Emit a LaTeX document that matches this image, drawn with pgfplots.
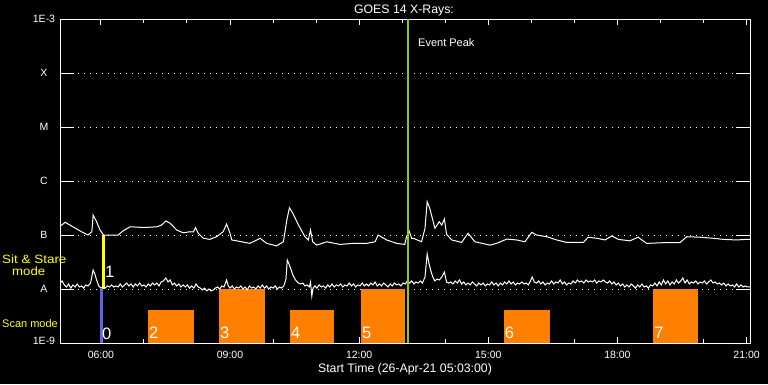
\documentclass[border=0pt]{standalone}
\usepackage{fontspec}
\setmainfont{Liberation Sans}
\usepackage{pgfplots}
\pgfplotsset{compat=1.18}
\definecolor{scanorange}{RGB}{255,128,0}
\definecolor{ssblue}{RGB}{100,100,230}
\definecolor{peakgreen}{RGB}{150,200,0}
\definecolor{ssyellow}{RGB}{255,255,0}
\begin{document}
\begin{tikzpicture}[x=1pt,y=1pt]
\useasboundingbox (0,0) rectangle (768,384);
\fill[black] (0,0) rectangle (768,384);
\begin{axis}[
  at={(60pt,41pt)}, anchor=south west,
  width=690pt, height=324pt, scale only axis,
  xmin=5.05, xmax=21.08, ymode=log, ymin=1e-9, ymax=1e-3,
  axis line style={white, line width=1pt},
  tick align=inside,
  xtick={6,9,12,15,18,21},
  xticklabels={06:00,09:00,12:00,15:00,18:00,21:00},
  minor xtick={7,8,10,11,13,14,16,17,19,20},
  major tick length=6pt, minor tick length=4pt,
  tick style={white, line width=1pt},
  ytick={1e-9,1e-8,1e-7,1e-6,1e-5,1e-4,1e-3},
  yticklabels={\raisebox{4pt}{1E-9},A,B,C,M,X,\raisebox{-4pt}{1E-3}},
  yminorticks=false,
  ytick style={draw=none},
  ymajorgrids,
  major grid style={white, line width=1pt, dash pattern=on 1pt off 5pt},
  tick label style={white},
  xticklabel style={font=\fontsize{10.5}{12}\selectfont, yshift=-5pt},
  yticklabel style={font=\fontsize{10.5}{12}\selectfont, anchor=center, xshift=-16pt},
]
% y ticks (long, both sides)
\draw[white, line width=1pt] (axis cs:5.05,1e-8) -- (axis cs:5.375,1e-8);
\draw[white, line width=1pt] (axis cs:5.05,1e-7) -- (axis cs:5.375,1e-7);
\draw[white, line width=1pt] (axis cs:5.05,1e-6) -- (axis cs:5.375,1e-6);
\draw[white, line width=1pt] (axis cs:5.05,1e-5) -- (axis cs:5.375,1e-5);
\draw[white, line width=1pt] (axis cs:5.05,1e-4) -- (axis cs:5.375,1e-4);
\draw[white, line width=1pt] (axis cs:20.755,1e-8) -- (axis cs:21.08,1e-8);
\draw[white, line width=1pt] (axis cs:20.755,1e-7) -- (axis cs:21.08,1e-7);
\draw[white, line width=1pt] (axis cs:20.755,1e-6) -- (axis cs:21.08,1e-6);
\draw[white, line width=1pt] (axis cs:20.755,1e-5) -- (axis cs:21.08,1e-5);
\draw[white, line width=1pt] (axis cs:20.755,1e-4) -- (axis cs:21.08,1e-4);
% scan mode bars
\addplot[fill=scanorange, draw=none] coordinates {(7.09,1e-9) (7.09,4.08e-9) (8.16,4.08e-9) (8.16,1e-9)};
\addplot[fill=scanorange, draw=none] coordinates {(8.74,1e-9) (8.74,1e-8) (9.81,1e-8) (9.81,1e-9)};
\addplot[fill=scanorange, draw=none] coordinates {(10.39,1e-9) (10.39,4.08e-9) (11.42,4.08e-9) (11.42,1e-9)};
\addplot[fill=scanorange, draw=none] coordinates {(12.04,1e-9) (12.04,1e-8) (13.06,1e-8) (13.06,1e-9)};
\addplot[fill=scanorange, draw=none] coordinates {(15.36,1e-9) (15.36,4.08e-9) (16.43,4.08e-9) (16.43,1e-9)};
\addplot[fill=scanorange, draw=none] coordinates {(18.83,1e-9) (18.83,1e-8) (19.87,1e-8) (19.87,1e-9)};
% mode markers
\addplot[ssblue, line width=3pt] coordinates {(6.02,1e-9) (6.02,1e-8)};
\addplot[ssyellow, line width=3pt] coordinates {(6.065,1e-8) (6.065,1e-7)};
% long wavelength channel
\addplot[white, line width=1pt] coordinates {
(5.05,1.47e-7) (5.09,1.53e-7) (5.17,1.72e-7) (5.35,1.42e-7) (5.55,1.15e-7) (5.70,1.0e-7) (5.79,1.15e-7) (5.82,2.35e-7) (5.90,1.76e-7) (5.98,1.24e-7) (6.06,1.0e-7) (6.40,1.0e-7) (6.52,1.20e-7) (6.68,1.42e-7) (6.91,1.39e-7) (7.10,1.39e-7) (7.30,1.42e-7) (7.41,1.53e-7) (7.51,1.82e-7) (7.61,1.65e-7) (7.76,1.24e-7) (7.91,1.10e-7) (8.07,1.15e-7) (8.15,1.14e-7) (8.20,1.37e-7) (8.26,1.08e-7) (8.38,8.7e-8) (8.53,8.3e-8) (8.69,9.3e-8) (8.84,1.15e-7) (8.92,1.60e-7) (9.00,1.08e-7) (9.04,8.1e-8) (9.23,7.6e-8) (9.46,7.0e-8) (9.70,8.7e-8) (9.85,7.0e-8) (10.08,6.3e-8) (10.24,7.5e-8) (10.32,1.90e-7) (10.38,3.20e-7) (10.46,2.52e-7) (10.59,1.53e-7) (10.74,9.3e-8) (10.82,8.1e-8) (10.87,1.24e-7) (10.92,7.5e-8) (11.01,6.5e-8) (11.25,7.5e-8) (11.55,6.7e-8) (11.86,7.0e-8) (12.17,7.0e-8) (12.37,7.5e-8) (12.44,1.0e-7) (12.64,8.1e-8) (12.87,7.0e-8) (13.06,6.7e-8) (13.10,9.3e-8) (13.16,1.19e-7) (13.22,8.7e-8) (13.26,8.7e-8) (13.45,7.5e-8) (13.53,1.33e-7) (13.58,4.14e-7) (13.64,3.12e-7) (13.76,1.33e-7) (13.86,1.76e-7) (13.92,1.53e-7) (13.98,1.98e-7) (14.03,1.03e-7) (14.15,8.1e-8) (14.38,7.3e-8) (14.53,1.08e-7) (14.69,7.5e-8) (15.04,6.5e-8) (15.19,7.0e-8) (15.43,8.4e-8) (15.66,8.1e-8) (15.85,7.5e-8) (16.01,1.12e-7) (16.12,1.0e-7) (16.36,9.3e-8) (16.59,8.1e-8) (16.82,7.3e-8) (17.21,7.3e-8) (17.32,9.1e-8) (17.52,8.7e-8) (17.71,8.1e-8) (17.87,9.6e-8) (18.02,8.3e-8) (18.29,7.8e-8) (18.48,9.1e-8) (18.68,7.0e-8) (19.06,7.2e-8) (19.45,7.2e-8) (19.61,9.3e-8) (19.92,9.1e-8) (20.23,8.7e-8) (20.46,8.3e-8) (20.77,8.1e-8) (21.00,8.3e-8) (21.08,8.3e-8)
};
% short wavelength channel
\addplot[white, line width=1pt] coordinates {
(5.05,1.29e-8) (5.10,1.41e-8) (5.15,1.19e-8) (5.20,1.09e-8) (5.25,1.24e-8) (5.30,1.04e-8) (5.35,1.19e-8) (5.40,1.09e-8) (5.45,1.24e-8) (5.50,1.09e-8) (5.55,1.14e-8) (5.60,1.04e-8) (5.65,1.19e-8) (5.70,1.14e-8) (5.76,1.29e-8) (5.82,2.25e-8) (5.86,1.90e-8) (5.90,1.47e-8) (5.95,1.14e-8) (6.00,1.04e-8)
(6.05,1.09e-8) (6.10,1.04e-8) (6.15,1.14e-8) (6.20,1.09e-8) (6.25,1.19e-8) (6.30,1.09e-8) (6.35,1.14e-8) (6.40,1.09e-8) (6.45,1.24e-8) (6.50,1.09e-8) (6.55,1.19e-8) (6.60,1.29e-8) (6.65,1.14e-8) (6.70,1.24e-8) (6.75,1.09e-8) (6.80,1.24e-8) (6.85,1.14e-8) (6.90,1.29e-8) (6.95,1.14e-8) (7.00,1.19e-8)
(7.05,1.09e-8) (7.10,1.24e-8) (7.15,1.14e-8) (7.20,1.29e-8) (7.25,1.19e-8) (7.30,1.29e-8) (7.35,1.14e-8) (7.40,1.35e-8) (7.45,1.41e-8) (7.51,1.60e-8) (7.56,1.35e-8) (7.61,1.47e-8) (7.66,1.19e-8) (7.71,1.29e-8) (7.76,1.14e-8) (7.81,1.24e-8) (7.86,1.09e-8) (7.91,1.19e-8) (7.96,1.09e-8) (8.01,1.19e-8)
(8.06,1.04e-8) (8.11,1.14e-8) (8.16,1.04e-8) (8.21,1.24e-8) (8.26,1.09e-8) (8.31,1.04e-8) (8.36,9.6e-9) (8.41,1.04e-8) (8.46,9.2e-9) (8.51,1.00e-8) (8.56,9.2e-9) (8.61,9.6e-9) (8.66,1.04e-8) (8.71,1.09e-8) (8.76,1.00e-8) (8.81,1.14e-8) (8.86,1.09e-8) (8.92,1.47e-8) (8.96,1.14e-8) (9.00,1.04e-8)
(9.05,1.14e-8) (9.10,1.00e-8) (9.15,1.09e-8) (9.20,1.04e-8) (9.25,1.14e-8) (9.30,1.00e-8) (9.35,1.09e-8) (9.40,9.6e-9) (9.45,1.14e-8) (9.50,1.04e-8) (9.55,1.09e-8) (9.60,1.00e-8) (9.65,1.14e-8) (9.70,1.04e-8) (9.75,1.19e-8) (9.80,1.04e-8) (9.85,1.14e-8) (9.90,1.00e-8) (9.95,1.09e-8) (10.00,1.04e-8)
(10.05,1.14e-8) (10.10,1.00e-8) (10.15,1.09e-8) (10.20,1.04e-8) (10.25,1.14e-8) (10.30,1.53e-8) (10.33,3.45e-8) (10.38,2.78e-8) (10.42,2.25e-8) (10.46,1.82e-8) (10.52,1.47e-8) (10.59,1.29e-8) (10.64,1.24e-8) (10.69,1.29e-8) (10.74,1.14e-8) (10.79,1.19e-8) (10.84,1.09e-8) (10.87,1.35e-8) (10.90,7.4e-9) (10.93,1.04e-8)
(10.97,1.14e-8) (11.02,1.04e-8) (11.07,1.19e-8) (11.12,1.09e-8) (11.17,1.14e-8) (11.22,1.04e-8) (11.27,1.19e-8) (11.32,1.09e-8) (11.37,1.24e-8) (11.42,1.09e-8) (11.47,1.19e-8) (11.52,1.14e-8) (11.57,1.24e-8) (11.62,1.09e-8) (11.67,1.19e-8) (11.72,1.14e-8) (11.77,1.29e-8) (11.82,1.14e-8) (11.87,1.24e-8) (11.92,1.09e-8)
(11.97,1.19e-8) (12.02,1.14e-8) (12.07,1.29e-8) (12.12,1.14e-8) (12.17,1.24e-8) (12.22,1.14e-8) (12.27,1.29e-8) (12.32,1.19e-8) (12.37,1.35e-8) (12.42,1.14e-8) (12.47,1.24e-8) (12.52,1.14e-8) (12.57,1.29e-8) (12.62,1.19e-8) (12.67,1.09e-8) (12.72,1.24e-8) (12.77,1.14e-8) (12.82,1.29e-8) (12.87,1.19e-8) (12.92,1.24e-8)
(12.97,1.14e-8) (13.02,1.29e-8) (13.07,1.24e-8) (13.12,1.41e-8) (13.17,1.29e-8) (13.22,1.41e-8) (13.27,1.24e-8) (13.32,1.35e-8) (13.37,1.29e-8) (13.42,1.41e-8) (13.47,1.29e-8) (13.53,1.67e-8) (13.58,4.45e-8) (13.62,3.03e-8) (13.66,2.25e-8) (13.71,1.67e-8) (13.76,1.41e-8) (13.81,1.53e-8) (13.86,1.47e-8) (13.92,1.67e-8)
(13.98,2.06e-8) (14.03,1.35e-8) (14.08,1.29e-8) (14.13,1.35e-8) (14.18,1.24e-8) (14.23,1.41e-8) (14.28,1.29e-8) (14.33,1.47e-8) (14.38,1.24e-8) (14.43,1.35e-8) (14.48,1.19e-8) (14.53,1.29e-8) (14.58,1.19e-8) (14.63,1.35e-8) (14.68,1.24e-8) (14.73,1.14e-8) (14.78,1.29e-8) (14.83,1.19e-8) (14.88,1.29e-8) (14.93,1.14e-8)
(14.98,1.24e-8) (15.03,1.19e-8) (15.08,1.35e-8) (15.13,1.19e-8) (15.18,1.29e-8) (15.23,1.14e-8) (15.28,1.29e-8) (15.33,1.19e-8) (15.38,1.35e-8) (15.43,1.24e-8) (15.48,1.41e-8) (15.53,1.24e-8) (15.58,1.35e-8) (15.63,1.19e-8) (15.68,1.29e-8) (15.73,1.24e-8) (15.78,1.35e-8) (15.83,1.24e-8) (15.88,1.29e-8) (15.93,1.19e-8)
(15.98,1.41e-8) (16.02,1.67e-8) (16.07,1.35e-8) (16.12,1.29e-8) (16.17,1.41e-8) (16.22,1.24e-8) (16.27,1.35e-8) (16.32,1.19e-8) (16.37,1.29e-8) (16.42,1.24e-8) (16.47,1.41e-8) (16.52,1.24e-8) (16.57,1.35e-8) (16.62,1.29e-8) (16.67,1.47e-8) (16.72,1.24e-8) (16.77,1.35e-8) (16.82,1.19e-8) (16.87,1.29e-8) (16.92,1.24e-8)
(16.97,1.41e-8) (17.02,1.29e-8) (17.07,1.47e-8) (17.12,1.35e-8) (17.17,1.41e-8) (17.22,1.29e-8) (17.27,1.47e-8) (17.32,1.35e-8) (17.37,1.41e-8) (17.42,1.35e-8) (17.47,1.47e-8) (17.52,1.29e-8) (17.57,1.41e-8) (17.62,1.35e-8) (17.67,1.47e-8) (17.72,1.35e-8) (17.77,1.29e-8) (17.82,1.41e-8) (17.87,1.24e-8) (17.92,1.35e-8)
(17.97,1.19e-8) (18.02,1.29e-8) (18.07,1.14e-8) (18.12,1.24e-8) (18.17,1.09e-8) (18.22,1.19e-8) (18.27,1.09e-8) (18.32,1.24e-8) (18.37,1.14e-8) (18.42,1.04e-8) (18.47,1.19e-8) (18.52,1.09e-8) (18.57,1.24e-8) (18.62,1.09e-8) (18.67,1.14e-8) (18.72,1.04e-8) (18.77,1.19e-8) (18.82,1.14e-8) (18.87,1.29e-8) (18.92,1.14e-8)
(18.97,1.35e-8) (19.02,1.19e-8) (19.07,1.47e-8) (19.12,1.24e-8) (19.17,1.41e-8) (19.22,1.19e-8) (19.27,1.35e-8) (19.32,1.24e-8) (19.37,1.47e-8) (19.42,1.29e-8) (19.47,1.41e-8) (19.52,1.60e-8) (19.57,1.29e-8) (19.62,1.47e-8) (19.67,1.24e-8) (19.72,1.35e-8) (19.77,1.29e-8) (19.82,1.41e-8) (19.87,1.24e-8) (19.92,1.35e-8)
(19.97,1.29e-8) (20.02,1.41e-8) (20.07,1.24e-8) (20.12,1.35e-8) (20.17,1.47e-8) (20.22,1.29e-8) (20.27,1.35e-8) (20.32,1.24e-8) (20.37,1.29e-8) (20.42,1.19e-8) (20.47,1.29e-8) (20.52,1.14e-8) (20.57,1.24e-8) (20.62,1.14e-8) (20.67,1.19e-8) (20.72,1.09e-8) (20.77,1.24e-8) (20.82,1.09e-8) (20.87,1.19e-8) (20.92,1.09e-8)
(20.97,1.14e-8) (21.02,1.09e-8) (21.08,1.09e-8)
};
% event peak
\addplot[peakgreen, line width=2pt] coordinates {(13.13,1e-9) (13.13,1e-3)};
% bar numbers
\node[white, anchor=south west, inner sep=0pt, xshift=1pt, yshift=4pt, font=\fontsize{16.5}{18}\selectfont] at (axis cs:7.09,1e-9) {2};
\node[white, anchor=south west, inner sep=0pt, xshift=1pt, yshift=4pt, font=\fontsize{16.5}{18}\selectfont] at (axis cs:8.74,1e-9) {3};
\node[white, anchor=south west, inner sep=0pt, xshift=1pt, yshift=4pt, font=\fontsize{16.5}{18}\selectfont] at (axis cs:10.39,1e-9) {4};
\node[white, anchor=south west, inner sep=0pt, xshift=1pt, yshift=4pt, font=\fontsize{16.5}{18}\selectfont] at (axis cs:12.04,1e-9) {5};
\node[white, anchor=south west, inner sep=0pt, xshift=1pt, yshift=4pt, font=\fontsize{16.5}{18}\selectfont] at (axis cs:15.36,1e-9) {6};
\node[white, anchor=south west, inner sep=0pt, xshift=1pt, yshift=4pt, font=\fontsize{16.5}{18}\selectfont] at (axis cs:18.83,1e-9) {7};
\end{axis}
\node[white, anchor=base west, inner sep=0pt, font=\fontsize{16.5}{18}\selectfont] at (102,45) {0};
\node[white, anchor=base west, inner sep=0pt, font=\fontsize{16.5}{18}\selectfont] at (105,107) {1};
\node[white, font=\fontsize{12.3}{14}\selectfont] at (404,374) {GOES 14 X-Rays:};
\node[white, anchor=base west, inner sep=0pt, font=\fontsize{11}{13}\selectfont] at (418,337.3) {Event Peak};
\node[white, anchor=base, inner sep=0pt, font=\fontsize{12.3}{14}\selectfont] at (405,11.3) {Start Time (26-Apr-21 05:03:00)};
\node[ssyellow, anchor=base west, inner sep=0pt, xscale=1.12, transform shape, font=\fontsize{12}{14}\selectfont] at (2,121) {Sit \& Stare};
\node[ssyellow, anchor=base west, inner sep=0pt, xscale=1.1, transform shape, font=\fontsize{12}{14}\selectfont] at (12,109) {mode};
\node[ssyellow, anchor=base west, inner sep=0pt, font=\fontsize{11}{13}\selectfont] at (2,56.7) {Scan mode};
\end{tikzpicture}
\end{document}
